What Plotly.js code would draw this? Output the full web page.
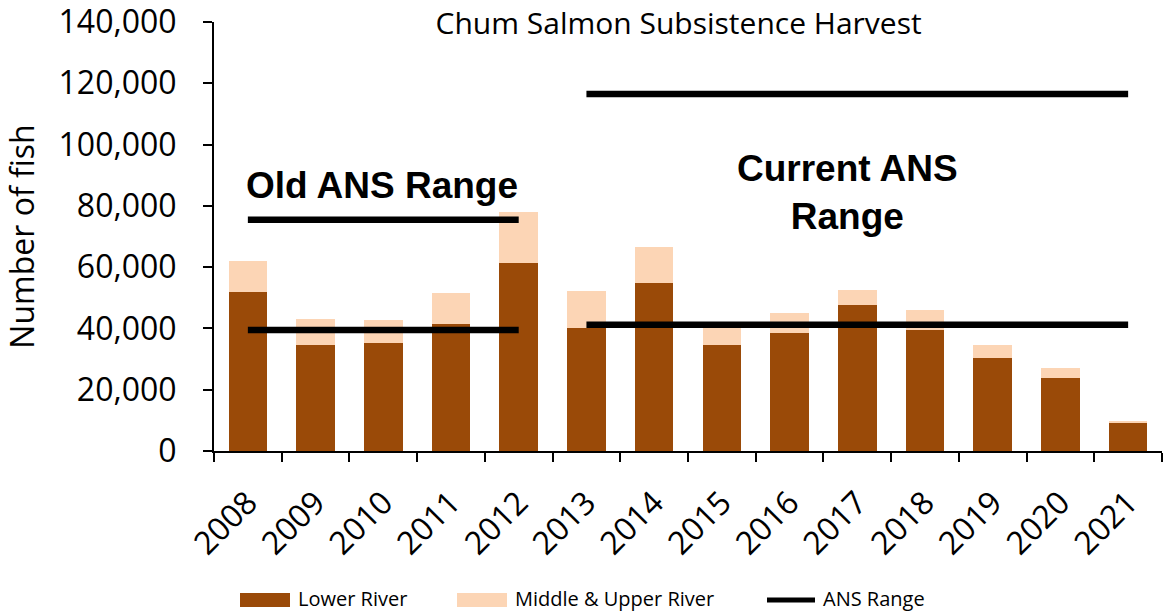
<!DOCTYPE html>
<html>
<head>
<meta charset="utf-8">
<script src="https://cdn.plot.ly/plotly-3.0.1.min.js"></script>
<style>html,body{margin:0;padding:0;background:#fff;}#chart{width:1170px;height:611px;}</style>
</head>
<body>
<div id="chart"></div>
<script>
const years = ['2008','2009','2010','2011','2012','2013','2014','2015','2016','2017','2018','2019','2020','2021'];
const lowerRiver = [52000,34700,35200,41400,61300,40300,54800,34500,38500,47700,39600,30400,23700,9000];
const middleUpperRiver = [10000,8400,7400,10100,16700,12000,11800,6300,6500,4900,6500,4300,3300,700];
const oldAnsYears = ['2008','2012'];
const oldAnsLow = 39500;
const oldAnsHigh = 75500;
const currentAnsYears = ['2013','2021'];
const currentAnsLow = 41200;
const currentAnsHigh = 116500;
const yTickVals = [0,20000,40000,60000,80000,100000,120000,140000];
const yTickText = ['0','20,000','40,000','60,000','80,000','100,000','120,000','140,000'];
const seriesNames = ['Lower River', 'Middle & Upper River', 'ANS Range'];
const seriesColors = ['#9A4A08', '#FCD5B5', '#000000'];

const ansX = [oldAnsYears[0], oldAnsYears[1], null, oldAnsYears[0], oldAnsYears[1], null,
              currentAnsYears[0], currentAnsYears[1], null, currentAnsYears[0], currentAnsYears[1]];
const ansY = [oldAnsHigh, oldAnsHigh, null, oldAnsLow, oldAnsLow, null,
              currentAnsHigh, currentAnsHigh, null, currentAnsLow, currentAnsLow];

const traces = [
  {type:'bar', name:seriesNames[0], x:years, y:lowerRiver, marker:{color:seriesColors[0]}},
  {type:'bar', name:seriesNames[1], x:years, y:middleUpperRiver, marker:{color:seriesColors[1]}},
  {type:'scatter', mode:'lines', name:seriesNames[2], x:ansX, y:ansY, connectgaps:false,
   line:{color:seriesColors[2], width:6.5}}
];

// plot area in pixels: x 214..1162, y 22..451
const L = 214, W = 948, B = 451, H = 429;
const px = v => (v - L) / W;
const py = v => (B - v) / H;

const legFont = {family:'Open Sans, sans-serif', size:20, color:'#000'};
const legendShapes = [
  {type:'rect', xref:'paper', yref:'paper', x0:px(240), x1:px(290), y0:py(593), y1:py(607),
   fillcolor:seriesColors[0], line:{width:0}},
  {type:'rect', xref:'paper', yref:'paper', x0:px(457), x1:px(507), y0:py(593), y1:py(607),
   fillcolor:seriesColors[1], line:{width:0}},
  {type:'line', xref:'paper', yref:'paper', x0:px(767), x1:px(815), y0:py(600), y1:py(600),
   line:{color:seriesColors[2], width:5}}
];
const legendTexts = [
  {text:seriesNames[0], xref:'paper', yref:'paper', x:px(296), y:py(599), xanchor:'left', yanchor:'middle', showarrow:false, font:legFont},
  {text:seriesNames[1], xref:'paper', yref:'paper', x:px(513), y:py(599), xanchor:'left', yanchor:'middle', showarrow:false, font:legFont},
  {text:seriesNames[2], xref:'paper', yref:'paper', x:px(821), y:py(599), xanchor:'left', yanchor:'middle', showarrow:false, font:legFont}
];

const tickFont = {family:'Open Sans, sans-serif', size:32, color:'#000'};
const layout = {
  width:1170, height:611,
  margin:{l:L, r:1170 - L - W, t:22, b:611 - B, autoexpand:false},
  paper_bgcolor:'#fff', plot_bgcolor:'#fff',
  barmode:'stack', bargap:0.43,
  showlegend:false,
  title:{text:'Chum Salmon Subsistence Harvest', font:{family:'Open Sans, sans-serif', size:30, color:'#000'},
         x:0.580, xref:'container', xanchor:'center', y:0.962, yref:'container', yanchor:'middle'},
  xaxis:{type:'category', showline:true, linecolor:'#000', linewidth:2, ticks:'outside', tickson:'boundaries',
         ticklen:9, tickwidth:2, tickcolor:'#000', tickangle:-45, tickfont:tickFont, showgrid:false,
         ticklabelstandoff:18, automargin:false},
  yaxis:{range:[0,140000], tickmode:'array', tickvals:yTickVals, ticktext:yTickText, showline:true, linecolor:'#000', linewidth:2,
         ticks:'outside', ticklen:9, tickwidth:2, tickcolor:'#000', tickfont:tickFont, showgrid:false,
         zeroline:false, ticklabelstandoff:20, automargin:false, ticklabeloverflow:'allow',
         title:{text:'Number of fish', font:{family:'Open Sans, sans-serif', size:32, color:'#000'}, standoff:14}},
  shapes:legendShapes,
  annotations:[
    {text:'<b>Old ANS Range</b>', xref:'paper', yref:'paper', x:px(382), y:py(185), showarrow:false,
     xanchor:'center', yanchor:'middle', font:{family:'Liberation Sans, Arial, sans-serif', size:37, color:'#000'}},
    {text:'<b>Current ANS<br>Range</b>', xref:'paper', yref:'paper', x:px(847), y:py(192), showarrow:false,
     xanchor:'center', yanchor:'middle', font:{family:'Liberation Sans, Arial, sans-serif', size:37, color:'#000'}}
  ].concat(legendTexts)
};

Plotly.newPlot('chart', traces, layout, {displayModeBar:false, staticPlot:true});
</script>
</body>
</html>
